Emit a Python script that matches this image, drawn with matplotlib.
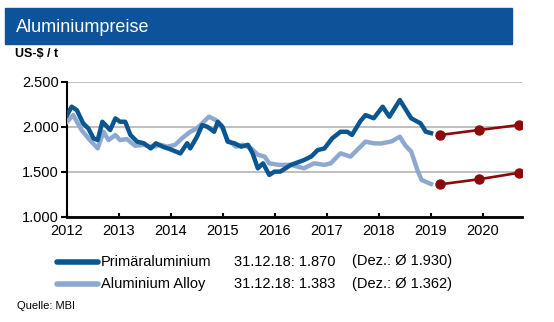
import matplotlib
matplotlib.use('Agg')
import matplotlib.pyplot as plt
from matplotlib.lines import Line2D
from matplotlib.patches import Rectangle
from matplotlib.ticker import FuncFormatter

plt.rcParams['font.family'] = ['Liberation Sans', 'DejaVu Sans']

# Primäraluminium (decimal year, US-$/t)
prim_x = [2012.00, 2012.09, 2012.19, 2012.31, 2012.41, 2012.51, 2012.59, 2012.68, 2012.83, 2012.93,
          2013.02, 2013.12, 2013.22, 2013.35, 2013.48, 2013.61, 2013.71, 2013.86, 2013.99, 2014.18,
          2014.31, 2014.37, 2014.50, 2014.60, 2014.70, 2014.83, 2014.90, 2014.99, 2015.09, 2015.22,
          2015.35, 2015.48, 2015.57, 2015.67, 2015.77, 2015.89, 2015.99, 2016.10, 2016.30, 2016.56,
          2016.70, 2016.82, 2016.95, 2017.10, 2017.26, 2017.39, 2017.48, 2017.64, 2017.74, 2017.90,
          2018.07, 2018.20, 2018.40, 2018.62, 2018.80, 2018.90, 2019.00]
prim_y = [2130, 2223, 2185, 2038, 1982, 1872, 1853, 2056, 1964, 2093,
          2056, 2056, 1909, 1835, 1817, 1761, 1817, 1775, 1750, 1705,
          1817, 1761, 1890, 2019, 2000, 1945, 2056, 2000, 1835, 1817,
          1780, 1800, 1705, 1540, 1595, 1466, 1503, 1503, 1576, 1632,
          1672, 1742, 1760, 1872, 1945, 1945, 1910, 2061, 2130, 2095,
          2223, 2112, 2297, 2094, 2038, 1945, 1930]

# Aluminium Alloy
alloy_x = [2012.00, 2012.12, 2012.28, 2012.44, 2012.59, 2012.70, 2012.80, 2012.93, 2013.02, 2013.15,
           2013.31, 2013.48, 2013.64, 2013.80, 2013.93, 2014.08, 2014.21, 2014.37, 2014.50, 2014.63,
           2014.73, 2014.86, 2014.99, 2015.09, 2015.25, 2015.38, 2015.54, 2015.67, 2015.80, 2015.89,
           2016.08, 2016.30, 2016.56, 2016.75, 2016.95, 2017.07, 2017.26, 2017.45, 2017.58, 2017.74,
           2017.90, 2018.04, 2018.24, 2018.40, 2018.50, 2018.62, 2018.75, 2018.82, 2019.00]
alloy_y = [2056, 2130, 1964, 1853, 1761, 1945, 1853, 1909, 1853, 1864,
           1790, 1800, 1775, 1800, 1780, 1800, 1872, 1945, 1982, 2056,
           2112, 2075, 1982, 1853, 1780, 1800, 1761, 1690, 1670, 1595,
           1578, 1578, 1540, 1595, 1578, 1595, 1706, 1669, 1743, 1835,
           1817, 1815, 1838, 1890, 1798, 1724, 1502, 1410, 1366]

# Prognosen
fc_x = [2019.17, 2019.92, 2020.70]
fc_prim = [1909, 1964, 2020]
fc_alloy = [1362, 1418, 1491]

names = ['Primäraluminium', 'Aluminium Alloy']
stand = ['31.12.18: 1.870', '31.12.18: 1.383']
dez = ['(Dez.: Ø 1.930)', '(Dez.: Ø 1.362)']

dark = '#0b5690'
light = '#8ea9cf'
red = '#8b0a0a'

W, H = 554, 322
fig = plt.figure(figsize=(W / 100, H / 100), dpi=100)

# title banner
fig.patches.append(Rectangle((5 / W, 1 - 44 / H), 507 / W, 36 / H,
                             transform=fig.transFigure, color='#0d5399', zorder=0))
fig.text(16 / W, 1 - 27 / H, 'Aluminiumpreise', color='white', fontsize=13, va='center')
fig.text(15 / W, 1 - 54 / H, 'US-$ / t', fontsize=9, fontweight='bold', va='center')

ax = fig.add_axes([67 / W, 1 - 217 / H, (522 - 67) / W, (217 - 81.7) / H])
ax.plot(alloy_x, alloy_y, color=light, lw=3.2, solid_joinstyle='round', zorder=3)
ax.plot(prim_x, prim_y, color=dark, lw=3.2, solid_joinstyle='round', zorder=4)
ax.plot(fc_x, fc_prim, color=red, lw=1.9, marker='o', ms=6.5, zorder=5)
ax.plot(fc_x, fc_alloy, color=red, lw=1.9, marker='o', ms=6.5, zorder=5)

ax.set_xlim(2012, 2020.75)
ax.set_ylim(1000, 2500)
ax.set_xticks(range(2012, 2021))
ax.set_yticks([1000, 1500, 2000, 2500])
ax.yaxis.set_major_formatter(FuncFormatter(lambda v, p: f'{int(v):,}'.replace(',', '.')))
ax.grid(axis='y', color='#b4b4b4', lw=1.2)
ax.set_axisbelow(True)
for s in ['top', 'right']:
    ax.spines[s].set_visible(False)
ax.spines['left'].set_linewidth(1.5)
ax.spines['bottom'].set_linewidth(2)
ax.tick_params(axis='y', direction='out', length=4, width=1.5, labelsize=10.5, pad=2)
ax.tick_params(axis='x', direction='in', length=3, width=1.5, labelsize=10.5, pad=5)

# legend rows
for i, (c, y) in enumerate([(dark, 261.5), (light, 284)]):
    fig.add_artist(Line2D([57 / W, 98 / W], [1 - y / H, 1 - y / H], color=c, lw=4,
                          solid_capstyle='round', transform=fig.transFigure))
    fig.text(101 / W, 1 - y / H, names[i], fontsize=10.5, va='center')
    fig.text(234 / W, 1 - y / H, stand[i], fontsize=10.5, va='center')
    fig.text(352 / W, 1 - y / H, dez[i], fontsize=10.5, va='center')

fig.text(17 / W, 1 - 306 / H, 'Quelle: MBI', fontsize=8, va='center')

fig.savefig('out.png', dpi=100)
